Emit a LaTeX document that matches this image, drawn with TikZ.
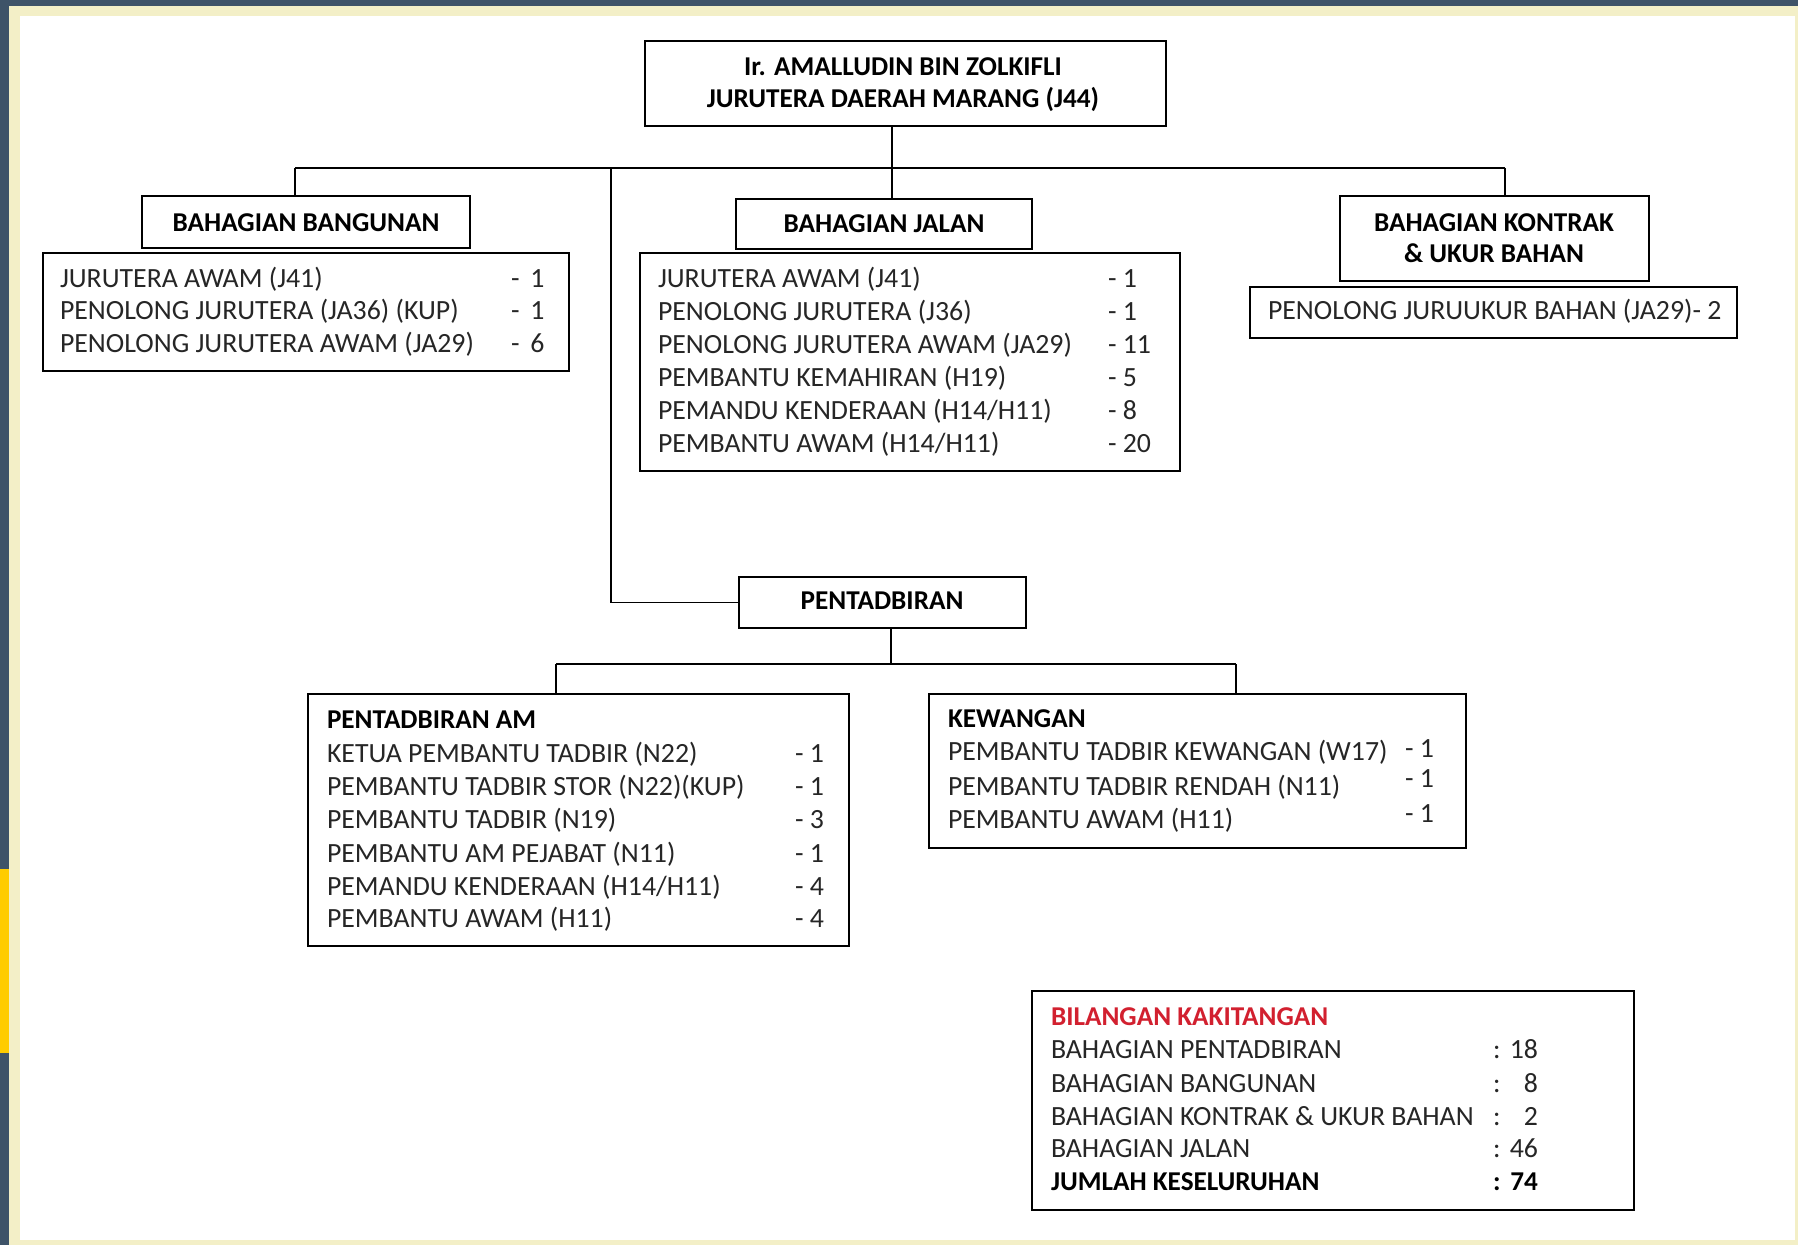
\documentclass[tikz,border=0pt]{standalone}
\usepackage{fontspec}
\setmainfont{Carlito}
\definecolor{slate}{HTML}{3E5368}
\definecolor{cream}{HTML}{F3EFC7}
\definecolor{tabyellow}{HTML}{FFCC00}
\definecolor{redtext}{HTML}{D2202F}
\definecolor{ink}{HTML}{262626}
\begin{document}
\begin{tikzpicture}[x=0.5pt,y=-0.5pt,
  box/.style={draw=black, line width=1pt, inner sep=0pt, outer sep=0pt, anchor=north west},
  txt/.style={inner sep=0pt, outer sep=0pt, anchor=base west, text=ink, font=\fontsize{13.9}{16}\selectfont},
  bold/.style={txt, text=black, font=\fontsize{13.6}{16}\selectfont\bfseries},
  numr/.style={txt, anchor=base east},
  hd/.style={inner sep=0pt, outer sep=0pt, anchor=base, font=\fontsize{13.6}{16}\selectfont\bfseries},
  link/.style={line width=0.9pt}]
% background frame
\fill[slate] (0,0) rectangle (1798,1245);
\fill[cream] (9,6) rectangle (1798,1245);
\fill[white] (20,16) rectangle (1795,1240);
\fill[tabyellow] (0,869) rectangle (9,1053);
\useasboundingbox (0,0) rectangle (1798,1245);

% boxes
\node[box, minimum width=260.5pt, minimum height=42.5pt] (top) at (645,41) {};
\node[box, minimum width=164pt, minimum height=26pt] (bangH) at (142,196) {};
\node[box, minimum width=263pt, minimum height=59pt] (bangL) at (43,253) {};
\node[box, minimum width=148pt, minimum height=25pt] (jalH) at (736,199) {};
\node[box, minimum width=270pt, minimum height=109pt] (jalL) at (640,253) {};
\node[box, minimum width=154.5pt, minimum height=42.5pt] (konH) at (1340,196) {};
\node[box, minimum width=243.5pt, minimum height=25.5pt] (konL) at (1250,287) {};
\node[box, minimum width=143.5pt, minimum height=25.5pt] (penH) at (739,577) {};
\node[box, minimum width=270.5pt, minimum height=126pt] (amB) at (308,694) {};
\node[box, minimum width=268.5pt, minimum height=77pt] (kewB) at (929,694) {};
\node[box, minimum width=301pt, minimum height=109.5pt] (sumB) at (1032,991) {};

% connectors
\coordinate (busL) at (295,168);
\coordinate (busP) at (611,168);
\coordinate (busM) at (892,168);
\coordinate (busR) at (1505,168);
\draw[link] (busL) -- (busR);
\draw[link] (top.south -| busM) -- (jalH.north -| busM);
\draw[link] (busL) -- (bangH.north -| busL);
\draw[link] (busR) -- (konH.north -| busR);
\draw[link] (busP) |- (penH.west);
\coordinate (pbL) at (556,664);
\coordinate (pbM) at (891,664);
\coordinate (pbR) at (1236,664);
\draw[link] (penH.south -| pbM) -- (pbM);
\draw[link] (pbL) -- (pbR);
\draw[link] (pbL) -- (amB.north -| pbL);
\draw[link] (pbR) -- (kewB.north -| pbR);

% top box
\node[hd] (t1) at (903,76) {Ir. AMALLUDIN BIN ZOLKIFLI};
\node[hd] (t2) at (903,108) {JURUTERA DAERAH MARANG (J44)};

% bangunan
\node[hd] (bh) at (306,232) {BAHAGIAN BANGUNAN};
\node[txt] (b1) at (60,288) {JURUTERA AWAM (J41)};
\node[txt] (b2) at (60,320) {PENOLONG JURUTERA (JA36) (KUP)};
\node[txt] (b3) at (60,353) {PENOLONG JURUTERA AWAM (JA29)};
\node[txt] (bn1) at (511,288) {-\, 1};
\node[txt] (bn2) at (511,320) {-\, 1};
\node[txt] (bn3) at (511,353) {-\, 6};

% jalan
\node[hd] (jh) at (884,233) {BAHAGIAN JALAN};
\node[txt] (j1) at (658,288) {JURUTERA AWAM (J41)};
\node[txt] (j2) at (658,321) {PENOLONG JURUTERA (J36)};
\node[txt] (j3) at (658,354) {PENOLONG JURUTERA AWAM (JA29)};
\node[txt] (j4) at (658,387) {PEMBANTU KEMAHIRAN (H19)};
\node[txt] (j5) at (658,420) {PEMANDU KENDERAAN (H14/H11)};
\node[txt] (j6) at (658,453) {PEMBANTU AWAM (H14/H11)};
\node[txt] (jn1) at (1108,288) {- 1};
\node[txt] (jn2) at (1108,321) {- 1};
\node[txt] (jn3) at (1108,354) {- 11};
\node[txt] (jn4) at (1108,387) {- 5};
\node[txt] (jn5) at (1108,420) {- 8};
\node[txt] (jn6) at (1108,453) {- 20};

% kontrak
\node[hd] (kh1) at (1494,232) {BAHAGIAN KONTRAK};
\node[hd] (kh2) at (1494,263) {\& UKUR BAHAN};
\node[txt] (k1) at (1268,320) {PENOLONG JURUUKUR BAHAN (JA29)- 2};

% pentadbiran
\node[hd] (ph) at (882,610) {PENTADBIRAN};
\node[bold] (a0) at (327,728) {PENTADBIRAN AM};
\node[txt] (a1) at (327,762) {KETUA PEMBANTU TADBIR (N22)};
\node[txt] (a2) at (327,795) {PEMBANTU TADBIR STOR (N22)(KUP)};
\node[txt] (a3) at (327,828) {PEMBANTU TADBIR (N19)};
\node[txt] (a4) at (327,862) {PEMBANTU AM PEJABAT (N11)};
\node[txt] (a5) at (327,895) {PEMANDU KENDERAAN (H14/H11)};
\node[txt] (a6) at (327,927) {PEMBANTU AWAM (H11)};
\node[txt] (an1) at (795,762) {- 1};
\node[txt] (an2) at (795,795) {- 1};
\node[txt] (an3) at (795,828) {- 3};
\node[txt] (an4) at (795,862) {- 1};
\node[txt] (an5) at (795,895) {- 4};
\node[txt] (an6) at (795,927) {- 4};

% kewangan
\node[bold] (w0) at (948,727) {KEWANGAN};
\node[txt] (w1) at (948,760) {PEMBANTU TADBIR KEWANGAN (W17)};
\node[txt] (w2) at (948,795) {PEMBANTU TADBIR RENDAH (N11)};
\node[txt] (w3) at (948,828) {PEMBANTU AWAM (H11)};
\node[txt] (wn1) at (1405,757) {- 1};
\node[txt] (wn2) at (1405,787) {- 1};
\node[txt] (wn3) at (1405,822) {- 1};

% summary
\node[bold, text=redtext] (s0) at (1051,1025) {BILANGAN KAKITANGAN};
\node[txt] (s1) at (1051,1058) {BAHAGIAN PENTADBIRAN};
\node[txt] (s2) at (1051,1092) {BAHAGIAN BANGUNAN};
\node[txt] (s3) at (1051,1125) {BAHAGIAN KONTRAK \& UKUR BAHAN};
\node[txt] (s4) at (1051,1157) {BAHAGIAN JALAN};
\node[bold] (s5) at (1051,1190) {JUMLAH KESELURUHAN};
\node[txt] (sc1) at (1493,1058) {:};
\node[txt] (sc2) at (1493,1092) {:};
\node[txt] (sc3) at (1493,1125) {:};
\node[txt] (sc4) at (1493,1157) {:};
\node[bold] (sc5) at (1493,1190) {:};
\node[numr] (sn1) at (1538,1058) {18};
\node[numr] (sn2) at (1538,1092) {8};
\node[numr] (sn3) at (1538,1125) {2};
\node[numr] (sn4) at (1538,1157) {46};
\node[numr, text=black, font=\fontsize{13.6}{16}\selectfont\bfseries] (sn5) at (1538,1190) {74};
\end{tikzpicture}
\end{document}
